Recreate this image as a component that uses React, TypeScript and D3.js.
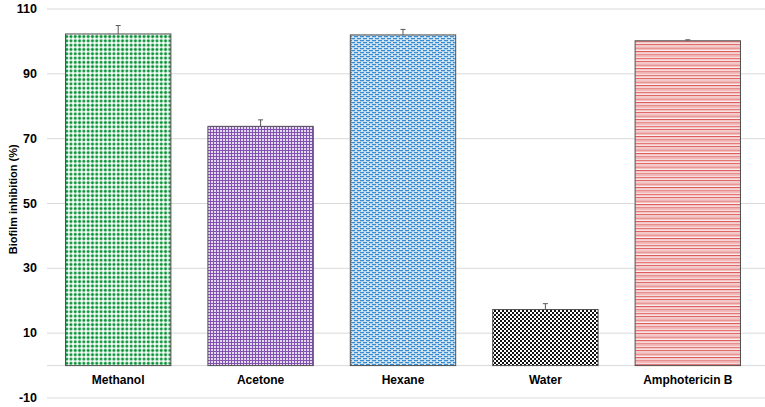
import * as d3 from 'd3';

const categories = ['Methanol', 'Acetone', 'Hexane', 'Water', 'Amphotericin B'];
const means = [102.3, 73.8, 102.0, 17.3, 100.2];
const errors = [2.6, 2.0, 1.7, 1.8, 0.3];
const yTicks = [-10, 10, 30, 50, 70, 90, 110];

const W = 765;
const H = 407;
const margin = { top: 9, right: 6, bottom: 9, left: 47 };
const FONT = 'Arial, "Liberation Sans", sans-serif';
const patternIds = ['pMeth', 'pAce', 'pHex', 'pWat', 'pAmp'];

function Patterns() {
  return (
    <defs>
      {/* green plus dots */}
      <pattern id="pMeth" width={4.3} height={4.3} patternUnits="userSpaceOnUse">
        <rect width={4.3} height={4.3} fill="#ffffff" />
        <rect x={0.6} y={1.3} width={3.1} height={1.7} fill="#0a9438" />
        <rect x={1.3} y={0.6} width={1.7} height={3.1} fill="#0a9438" />
      </pattern>
      {/* purple grid */}
      <pattern id="pAce" width={3} height={3} patternUnits="userSpaceOnUse">
        <rect width={3} height={3} fill="#e4d9ef" />
        <rect x={0} y={0} width={3} height={1} fill="#8152b0" />
        <rect x={0} y={0} width={1} height={3} fill="#8152b0" />
      </pattern>
      {/* blue weave */}
      <pattern id="pHex" width={6} height={4} patternUnits="userSpaceOnUse">
        <rect width={6} height={4} fill="#ffffff" />
        <rect x={0} y={0} width={4} height={1.4} fill="#3a8cd0" />
        <rect x={3} y={2} width={4} height={1.4} fill="#3a8cd0" />
        <rect x={-3} y={2} width={4} height={1.4} fill="#3a8cd0" />
        <rect x={4.5} y={0} width={1} height={2} fill="#a9cdea" />
        <rect x={1.5} y={2} width={1} height={2} fill="#a9cdea" />
      </pattern>
      {/* black checkerboard */}
      <pattern id="pWat" width={4} height={4} patternUnits="userSpaceOnUse">
        <rect width={4} height={4} fill="#ffffff" />
        <rect x={0} y={0} width={2} height={2} fill="#111111" />
        <rect x={2} y={2} width={2} height={2} fill="#111111" />
      </pattern>
      {/* red horizontal stripes */}
      <pattern id="pAmp" width={4} height={3.4} patternUnits="userSpaceOnUse">
        <rect width={4} height={3.4} fill="#ffffff" />
        <rect x={0} y={0} width={4} height={1.1} fill="#dc5050" />
        <rect x={0} y={1.7} width={4} height={1} fill="#f2bcbc" />
      </pattern>
    </defs>
  );
}

export default function App() {
  const x = d3
    .scaleBand<string>()
    .domain(categories)
    .range([margin.left, W - margin.right])
    .paddingInner(0.26)
    .paddingOuter(0.13);

  const y = d3
    .scaleLinear()
    .domain([-10, 110])
    .range([H - margin.bottom, margin.top]);

  const bw = x.bandwidth();

  return (
    <svg
      width={W}
      height={H}
      style={{ position: 'absolute', left: 0, top: 0, background: '#fff' }}
      fontFamily={FONT}
    >
      <Patterns />

      {/* gridlines */}
      {yTicks.map(t => (
        <line
          key={t}
          x1={margin.left}
          x2={W}
          y1={y(t)}
          y2={y(t)}
          stroke="#d9d9d9"
          strokeWidth={1}
        />
      ))}
      <line x1={margin.left} x2={W} y1={y(0)} y2={y(0)} stroke="#d9d9d9" strokeWidth={1} />

      {/* tick labels */}
      {yTicks.map(t => (
        <text
          key={t}
          x={37}
          y={y(t)}
          textAnchor="end"
          dominantBaseline="central"
          fontSize={12.5}
          fontWeight="bold"
          fill="#000"
        >
          {t}
        </text>
      ))}

      {/* axis title */}
      <text
        transform={`translate(13,${(y(110) + y(0)) / 2 + 12}) rotate(-90)`}
        textAnchor="middle"
        dominantBaseline="central"
        fontSize={11}
        fontWeight="bold"
        fill="#000"
      >
        Biofilm inhibition (%)
      </text>

      {/* bars */}
      {categories.map((c, i) => {
        const x0 = x(c)!;
        const cx = x0 + bw / 2;
        const top = y(means[i]);
        const errTop = y(means[i] + errors[i]);
        return (
          <g key={c}>
            <line x1={cx} x2={cx} y1={top} y2={errTop} stroke="#595959" strokeWidth={1} />
            <line x1={cx - 2.5} x2={cx + 2.5} y1={errTop} y2={errTop} stroke="#595959" strokeWidth={1} />
            <rect
              x={x0}
              y={top}
              width={bw}
              height={y(0) - top}
              fill={`url(#${patternIds[i]})`}
              stroke="#505050"
              strokeWidth={1}
            />
            <text
              x={cx}
              y={y(0) + 14}
              textAnchor="middle"
              dominantBaseline="central"
              fontSize={12}
              fontWeight="bold"
              fill="#000"
            >
              {c}
            </text>
          </g>
        );
      })}
    </svg>
  );
}
